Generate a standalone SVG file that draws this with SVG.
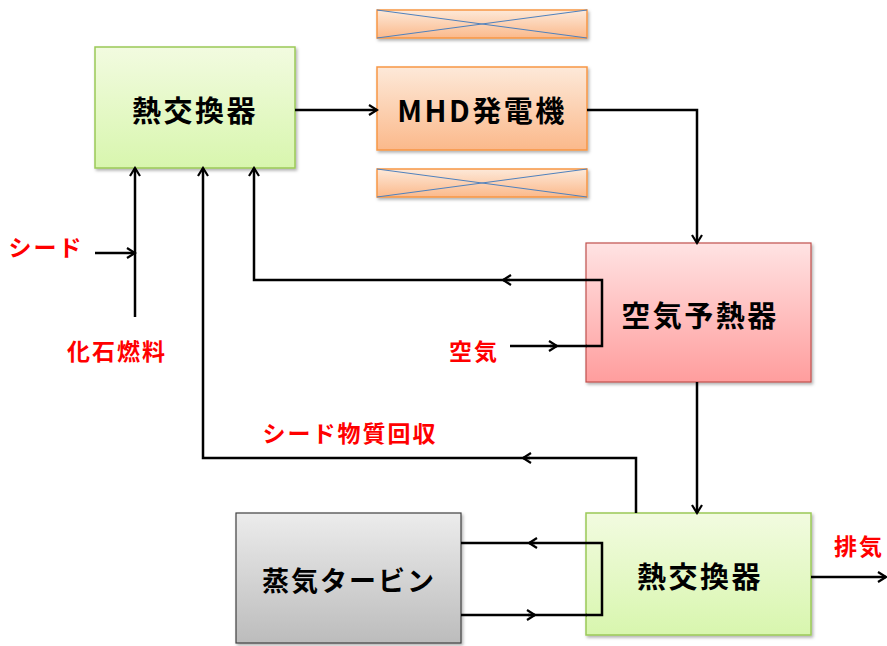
<svg xmlns="http://www.w3.org/2000/svg" width="887" height="646" viewBox="0 0 887 646">
<style>
.lbl{font-family:"Noto Sans CJK JP","Liberation Sans",sans-serif;font-weight:bold;font-size:29px;fill:#000;text-anchor:middle;dominant-baseline:central;letter-spacing:2.5px}
.red{font-family:"Noto Sans CJK JP","Liberation Sans",sans-serif;font-weight:bold;font-size:23px;fill:#ff0000;text-anchor:middle;dominant-baseline:central;letter-spacing:2px}
.ln{fill:none;stroke:#000;stroke-width:2.5;stroke-linejoin:miter}
.x{stroke:#4f81bd;stroke-width:1}
</style>
<defs>
<linearGradient id="gG" x1="0" y1="0" x2="0" y2="1"><stop offset="0" stop-color="#f2fbe0"/><stop offset="1" stop-color="#d8f6ae"/></linearGradient>
<linearGradient id="gO" x1="0" y1="0" x2="0" y2="1"><stop offset="0" stop-color="#fde9d9"/><stop offset="1" stop-color="#fbb98b"/></linearGradient>
<linearGradient id="gP" x1="0" y1="0" x2="0" y2="1"><stop offset="0" stop-color="#ffe3e3"/><stop offset="1" stop-color="#ff9d9d"/></linearGradient>
<linearGradient id="gS" x1="0" y1="0" x2="0" y2="1"><stop offset="0" stop-color="#ececec"/><stop offset="1" stop-color="#bcbcbc"/></linearGradient>
<marker id="ah" markerWidth="12" markerHeight="12" refX="10" refY="6" orient="auto" markerUnits="userSpaceOnUse">
<path d="M2,1 L10,6 L2,11" fill="none" stroke="#000" stroke-width="2.2"/>
</marker>
<filter id="sh" x="-10%" y="-10%" width="130%" height="130%"><feDropShadow dx="1.5" dy="2" stdDeviation="1.5" flood-color="#000" flood-opacity="0.3"/></filter>
</defs>

<g id="hx1">
<rect x="95" y="47" width="200" height="121" fill="url(#gG)" stroke="#9bc957" stroke-width="1.5" filter="url(#sh)"/>
<text class="lbl" x="195" y="109">熱交換器</text>
</g>
<g id="mhd">
<rect x="377" y="67" width="210" height="83" fill="url(#gO)" stroke="#f79646" stroke-width="1.5" filter="url(#sh)"/>
<text class="lbl" x="482" y="109">MHD発電機</text>
</g>
<g id="magnet-top">
<rect x="377" y="10" width="210" height="28" fill="url(#gO)" stroke="#f79646" stroke-width="1.5" filter="url(#sh)"/>
<line class="x" x1="377" y1="10" x2="587" y2="38"/><line class="x" x1="377" y1="38" x2="587" y2="10"/>
</g>
<g id="magnet-bottom">
<rect x="377" y="169" width="210" height="28" fill="url(#gO)" stroke="#f79646" stroke-width="1.5" filter="url(#sh)"/>
<line class="x" x1="377" y1="169" x2="587" y2="197"/><line class="x" x1="377" y1="197" x2="587" y2="169"/>
</g>
<g id="preheater">
<rect x="586" y="243" width="225" height="139" fill="url(#gP)" stroke="#c0504d" stroke-width="1.2" filter="url(#sh)"/>
<text class="lbl" x="700" y="314">空気予熱器</text>
</g>
<g id="hx2">
<rect x="586" y="513" width="225" height="122" fill="url(#gG)" stroke="#9bc957" stroke-width="1.5" filter="url(#sh)"/>
<text class="lbl" x="700" y="575">熱交換器</text>
</g>
<g id="turbine">
<rect x="236" y="513" width="225" height="130" fill="url(#gS)" stroke="#404040" stroke-width="1.2" filter="url(#sh)"/>
<text class="lbl" x="349" y="579" style="font-size:27px;letter-spacing:2px">蒸気タービン</text>
</g>

<g id="connectors">
<path class="ln" d="M295,110 L377,110" marker-end="url(#ah)"/>
<path class="ln" d="M587,110 L697,110 L697,243" marker-end="url(#ah)"/>
<path class="ln" d="M586,346 L602,346 L602,280 L503,280" marker-end="url(#ah)"/>
<path class="ln" d="M510,280 L254,280 L254,168" marker-end="url(#ah)"/>
<path class="ln" d="M510,346 L557,346" marker-end="url(#ah)"/>
<path class="ln" d="M550,346 L587,346"/>
<path class="ln" d="M95,253 L135,253" marker-end="url(#ah)"/>
<path class="ln" d="M135,317 L135,168" marker-end="url(#ah)"/>
<path class="ln" d="M636,513 L636,458 L523,458" marker-end="url(#ah)"/>
<path class="ln" d="M530,458 L203,458 L203,168" marker-end="url(#ah)"/>
<path class="ln" d="M697,382 L697,513" marker-end="url(#ah)"/>
<path class="ln" d="M586,615 L602,615 L602,543 L529,543" marker-end="url(#ah)"/>
<path class="ln" d="M535,543 L461,543"/>
<path class="ln" d="M461,615 L535,615" marker-end="url(#ah)"/>
<path class="ln" d="M528,615 L587,615"/>
<path class="ln" d="M811,577 L886,577" marker-end="url(#ah)"/>
</g>

<g id="labels">
<text class="red" x="46" y="246">シード</text>
<text class="red" x="117" y="350">化石燃料</text>
<text class="red" x="474" y="350">空気</text>
<text class="red" x="350" y="432">シード物質回収</text>
<text class="red" x="859" y="545">排気</text>
</g>
</svg>
